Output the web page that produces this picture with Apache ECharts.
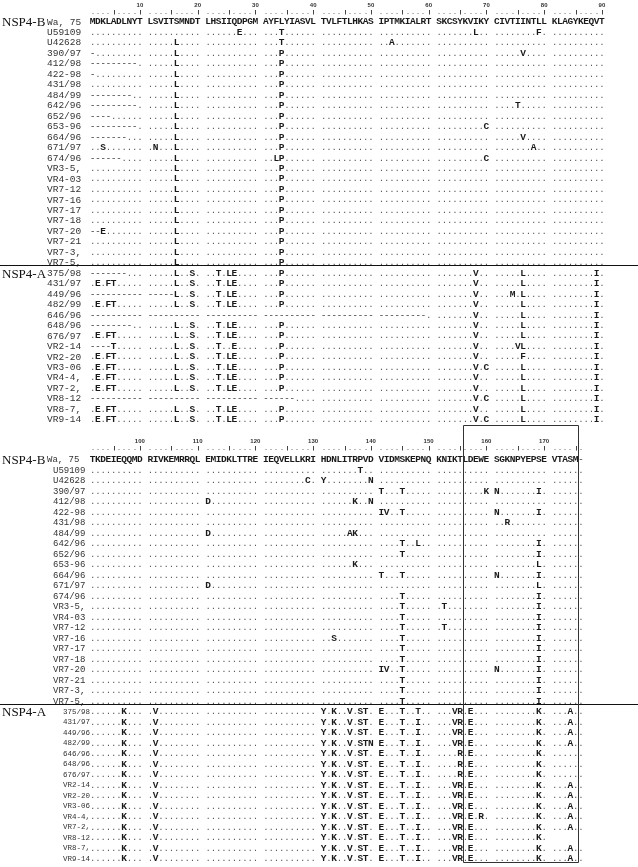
<!DOCTYPE html>
<html><head><meta charset="utf-8">
<script src="https://cdn.jsdelivr.net/npm/echarts@6/dist/echarts.min.js"></script>
<style>html,body{margin:0;padding:0;background:#fff}#c{width:638px;height:867px}</style>
</head><body><div id="c"></div>
<script>
// ---------------- data ----------------
const topRulerLabels = ['10','20','30','40','50','60','70','80','90'];
const bottomRulerLabels = ['100','110','120','130','140','150','160','170'];
const topRuler = '....|....| ....|....| ....|....| ....|....| ....|....| ....|....| ....|....| ....|....| ....|....|';
const bottomRuler = '....|....| ....|....| ....|....| ....|....| ....|....| ....|....| ....|....| ....|....| ....|.';

const namesB = ['Wa, 75','U59109','U42628','390/97','412/98','422-98','431/98','484/99','642/96','652/96','653-96','664/96','671/97','674/96','VR3-5,','VR4-03','VR7-12','VR7-16','VR7-17','VR7-18','VR7-20','VR7-21','VR7-3,','VR7-5,'];
const namesA = ['375/98','431/97','449/96','482/99','646/96','648/96','676/97','VR2-14','VR2-20','VR3-06','VR4-4,','VR7-2,','VR8-12','VR8-7,','VR9-14'];

const topSeqB = [
'MDKLADLNYT LSVITSMNDT LHSIIQDPGM AYFLYIASVL TVLFTLHKAS IPTMKIALRT SKCSYKVIKY CIVTIINTLL KLAGYKEQVT',
'.......... .......... ......E... ...T...... .......... .......... .......L.. ........F. ..........',
'.......... .....L.... .......... ...T...... .......... ..A....... .......... .......... ..........',
'-......... .....L.... .......... ...P...... .......... .......... .......... .....V.... ..........',
'---------. .....L.... .......... ...P...... .......... .......... .......... .......... ..........',
'-......... .....L.... .......... ...P...... .......... .......... .......... .......... ..........',
'.......... .....L.... .......... ...P...... .......... .......... .......... .......... ..........',
'--------.. .....L.... .......... ...P...... .......... .......... .......... .......... ..........',
'---------. .....L.... .......... ...P...... .......... .......... .......... ....T..... ..........',
'----...... .....L.... .......... ...P...... .......... .......... .......... .......... ..........',
'---------. .....L.... .......... ...P...... .......... .......... .........C .......... ..........',
'-------... .....L.... .......... ...P...... .......... .......... .......... .....V.... ..........',
'..S....... .N...L.... .......... ...P...... .......... .......... .......... .......A.. ..........',
'------.... .....L.... .......... ..LP...... .......... .......... .........C .......... ..........',
'.......... .....L.... .......... ...P...... .......... .......... .......... .......... ..........',
'.......... .....L.... .......... ...P...... .......... .......... .......... .......... ..........',
'.......... .....L.... .......... ...P...... .......... .......... .......... .......... ..........',
'.......... .....L.... .......... ...P...... .......... .......... .......... .......... ..........',
'.......... .....L.... .......... ...P...... .......... .......... .......... .......... ..........',
'.......... .....L.... .......... ...P...... .......... .......... .......... .......... ..........',
'--E....... .....L.... .......... ...P...... .......... .......... .......... .......... ..........',
'.......... .....L.... .......... ...P...... .......... .......... .......... .......... ..........',
'.......... .....L.... .......... ...P...... .......... .......... .......... .......... ..........',
'.......... .....L.... .......... ...P...... .......... .......... .......... .......... ..........'
];
const topSeqA = [
'-------... .....L..S. ..T.LE.... ...P...... .......... .......... .......V.. .....L.... ........I.',
'.E.FT..... .....L..S. ..T.LE.... ...P...... .......... .......... .......V.. .....L.... ........I.',
'---------- -----L..S. ..T.LE.... ...P...... .......... .......... .......V.. ...M.L.... ........I.',
'.E.FT..... .....L..S. ..T.LE.... ...P...... .......... .......... .......V.. .....L.... ........I.',
'---------- ---------- ---------- ---------- ---------- ---------. .......V.. .....L.... ........I.',
'--------.. .....L..S. ..T.LE.... ...P...... .......... .......... .......V.. .....L.... ........I.',
'.E.FT..... .....L..S. ..T.LE.... ...P...... .......... .......... .......V.. .....L.... ........I.',
'----T..... .....L..S. ..T..E.... ...P...... .......... .......... .......V.. ....VL.... ........I.',
'.E.FT..... .....L..S. ..T.LE.... ...P...... .......... .......... .......V.. .....F.... ........I.',
'.E.FT..... .....L..S. ..T.LE.... ...P...... .......... .......... .......V.C .....L.... ........I.',
'.E.FT..... .....L..S. ..T.LE.... ...P...... .......... .......... .......V.. .....L.... ........I.',
'.E.FT..... .....L..S. ..T.LE.... ...P...... .......... .......... .......V.. .....L.... ........I.',
'---------- ---------- ---------- ------.... .......... .......... .......V.C .....L.... ........I.',
'.E.FT..... .....L..S. ..T.LE.... ...P...... .......... .......... .......V.. .....L.... ........I.',
'.E.FT..... .....L..S. ..T.LE.... ...P...... .......... .......... .......V.C .....L.... ........I.'
];
const bottomSeqB = [
'TKDEIEQQMD RIVKEMRRQL EMIDKLTTRE IEQVELLKRI HDNLITRPVD VIDMSKEPNQ KNIKTLDEWE SGKNPYEPSE VTASM-',
'.......... .......... .......... .......... .......T.. .......... .......... .......... ......',
'.......... .......... .......... ........C. Y........N .......... .......... .......... ......',
'.......... .......... .......... .......... .......... T...T..... .........K N.......I. ......',
'.......... .......... D......... .......... ......K..N .......... .......... .......... ......',
'.......... .......... .......... .......... .......... IV..T..... .......... N.......I. ......',
'.......... .......... .......... .......... .......... .......... .......... ..R....... ......',
'.......... .......... D......... .......... .....AK... .......... .......... .......... ......',
'.......... .......... .......... .......... .......... ....T..L.. .......... ........I. ......',
'.......... .......... .......... .......... .......... ....T..... .......... ........I. ......',
'.......... .......... .......... .......... ......K... .......... .......... ........L. ......',
'.......... .......... .......... .......... .......... T...T..... .......... N.......I. ......',
'.......... .......... D......... .......... .......... .......... .......... ........L. ......',
'.......... .......... .......... .......... .......... ....T..... .......... ........I. ......',
'.......... .......... .......... .......... .......... ....T..... .T........ ........I. ......',
'.......... .......... .......... .......... .......... ....T..... .......... ........I. ......',
'.......... .......... .......... .......... .......... ....T..... .T........ ........I. ......',
'.......... .......... .......... .......... ..S....... ....T..... .......... ........I. ......',
'.......... .......... .......... .......... .......... ....T..... .......... ........I. ......',
'.......... .......... .......... .......... .......... ....T..... .......... ........I. ......',
'.......... .......... .......... .......... .......... IV..T..... .......... N.......I. ......',
'.......... .......... .......... .......... .......... ....T..... .......... ........I. ......',
'.......... .......... .......... .......... .......... ....T..... .......... ........I. ......',
'.......... .......... .......... .......... .......... ....T..... .......... ........I. ......'
];
const bottomSeqA = [
'......K... .V........ .......... .......... Y.K..V.ST. E...T..T.. ...VR.E... ........K. ...A..',
'......K... .V........ .......... .......... Y.K..V.ST. E...T..I.. ...VR.E... ........K. ...A..',
'......K... .V........ .......... .......... Y.K..V.ST. E...T..I.. ...VR.E... ........K. ...A..',
'......K... .V........ .......... .......... Y.K..V.STN E...T..I.. ...VR.E... ........K. ...A..',
'......K... .V........ .......... .......... Y.K..V.ST. E...T..I.. ....R.E... ........K. ......',
'......K... .V........ .......... .......... Y.K..V.ST. E...T..I.. ....R.E... ........K. ......',
'......K... .V........ .......... .......... Y.K..V.ST. E...T..I.. ....R.E... ........K. ......',
'......K... .V........ .......... .......... Y.K..V.ST. E...T..I.. ...VR.E... ........K. ...A..',
'......K... .V........ .......... .......... Y.K..V.ST. E...T..I.. ...VR.E... ........K. ...A..',
'......K... .V........ .......... .......... Y.K..V.ST. E...T..I.. ...VR.E... ........K. ...A..',
'......K... .V........ .......... .......... Y.K..V.ST. E...T..I.. ...VR.E.R. ........K. ...A..',
'......K... .V........ .......... .......... Y.K..V.ST. E...T..I.. ...VR.E... ........K. ...A..',
'......K... .V........ .......... .......... Y.K..V.ST. E...T..I.. ...VR.E... ........K.',
'......K... .V........ .......... .......... Y.K..V.ST. E...T..I.. ...VR.E... ........K. ...A..',
'......K... .V........ .......... .......... Y.K..V.ST. E...T..I.. ...VR.E... ........K. ...A..'
];
const groupLabels = ['NSP4-B','NSP4-A'];

// ---------------- layout / styling (code, not data) ----------------
const CH = 5.25;          // px per alignment column
const NCOL = 98;
const HALF = [
  {y0: 22,  step: 10.47, rulerRow: -0.85, labelRow: -1.6, nameXB: 47, nameXB0: 47, nameXA: 47, nameFontB: 9.5, nameFontA: 9.5},
  {y0: 460, step: 10.5,  rulerRow: -1.05, labelRow: -1.82, nameXB: 53, nameXB0: 47, nameXA: 63, nameFontB: 9, nameFontA: 7.5}
];

function buildCells(h, seqB, seqA, ruler, rulerLabels, withBox) {
  const cells = [];
  const rows = seqB.concat(seqA);
  rows.forEach((s, r) => {
    for (let p = 0; p < s.length; p++) {
      const ch = s[p];
      if (ch === ' ') continue;
      cells.push({k: ch === '.' ? 'dot' : (ch === '-' ? 'gap' : 'res'), p: p + 0.5, r: r, t: ch});
    }
  });
  namesB.forEach((n, r) => cells.push({k: 'name', p: 0, r: r, t: n, px: r === 0 ? h.nameXB0 : h.nameXB, fs: h.nameFontB}));
  namesA.forEach((n, r) => cells.push({k: 'name', p: 0, r: r + seqB.length, t: n, px: h.nameXA, fs: h.nameFontA}));
  cells.push({k: 'group', p: 0, r: 0, t: groupLabels[0]});
  cells.push({k: 'group', p: 0, r: seqB.length, t: groupLabels[1]});
  for (let p = 0; p < ruler.length; p++) {
    const ch = ruler[p];
    if (ch === ' ') continue;
    cells.push({k: ch === '|' ? 'tick' : 'rdot', p: p + 0.5, r: h.rulerRow});
  }
  rulerLabels.forEach((l, i) => cells.push({k: 'rlabel', p: i * 11 + 9.5, r: h.labelRow, t: l}));
  cells.push({k: 'hline', p: 0, r: seqB.length - 0.75});
  if (withBox) cells.push({k: 'box', p: 71, r: -3.33, p2: 93, r2: 38.29});
  return cells;
}

const cellsTop = buildCells(HALF[0], topSeqB, topSeqA, topRuler, topRulerLabels, false);
const cellsBot = buildCells(HALF[1], bottomSeqB, bottomSeqA, bottomRuler, bottomRulerLabels, true);

const MONO = '"Liberation Mono", "DejaVu Sans Mono", monospace';
function makeRender(cells) {
  return function (params, api) {
    const c = cells[params.dataIndex];
    const pt = api.coord([api.value(0), api.value(1)]);
    const x = pt[0], y = pt[1];
    switch (c.k) {
      case 'res':
        return {type: 'text', x: x, y: y, silent: true,
          style: {text: c.t, font: 'bold 9.5px ' + MONO, fill: '#1a1a1a', align: 'center', verticalAlign: 'middle'}};
      case 'dot':
        return {type: 'text', x: x, y: y, silent: true,
          style: {text: '.', font: '9px ' + MONO, fill: '#555', align: 'center', verticalAlign: 'middle'}};
      case 'gap':
        return {type: 'text', x: x, y: y, silent: true,
          style: {text: '-', font: '9px ' + MONO, fill: '#333', align: 'center', verticalAlign: 'middle'}};
      case 'name':
        return {type: 'text', x: c.px, y: y, silent: true,
          style: {text: c.t, font: c.fs + 'px ' + MONO, fill: '#333', align: 'left', verticalAlign: 'middle'}};
      case 'group':
        return {type: 'text', x: 2, y: y + 1, silent: true,
          style: {text: c.t, font: '13px "Liberation Serif", "DejaVu Serif", serif', fill: '#111', align: 'left', verticalAlign: 'middle'}};
      case 'rdot':
        return {type: 'rect', silent: true, shape: {x: Math.round(x) - 0.5, y: Math.round(y), width: 1, height: 1}, style: {fill: '#777'}};
      case 'tick':
        return {type: 'line', silent: true, shape: {x1: Math.round(x) + 0.5, y1: Math.round(y) - 3, x2: Math.round(x) + 0.5, y2: Math.round(y) + 1.5}, style: {stroke: '#444', lineWidth: 1}};
      case 'rlabel':
        return {type: 'text', x: x, y: y, silent: true,
          style: {text: c.t, font: 'bold 6px "Liberation Sans", sans-serif', fill: '#333', align: 'center', verticalAlign: 'middle'}};
      case 'hline': {
        const yy = Math.round(y) + 0.5;
        return {type: 'line', silent: true, shape: {x1: 0, y1: yy, x2: api.getWidth(), y2: yy}, style: {stroke: '#111', lineWidth: 1}};
      }
      case 'box': {
        const p2 = api.coord([c.p2, c.r2]);
        const x1 = Math.round(x) + 0.5, y1 = Math.round(y) + 0.5;
        return {type: 'rect', silent: true, shape: {x: x1, y: y1, width: Math.round(p2[0]) - Math.round(x), height: Math.round(p2[1]) - Math.round(y)},
          style: {fill: 'none', stroke: '#333', lineWidth: 1}};
      }
    }
    return null;
  };
}

const chart = echarts.init(document.getElementById('c'), null, {renderer: 'canvas'});
const grids = HALF.map(h => ({left: 90, width: NCOL * CH, top: h.y0 - 2 * h.step, height: 40 * h.step}));
chart.setOption({
  animation: false,
  backgroundColor: '#fff',
  grid: grids,
  xAxis: grids.map((g, i) => ({type: 'value', gridIndex: i, min: 0, max: NCOL, show: false})),
  yAxis: grids.map((g, i) => ({type: 'value', gridIndex: i, min: -2, max: 38, inverse: true, show: false})),
  series: [
    {type: 'custom', xAxisIndex: 0, yAxisIndex: 0, clip: false, progressive: 0,
      renderItem: makeRender(cellsTop), data: cellsTop.map(c => [c.p, c.r])},
    {type: 'custom', xAxisIndex: 1, yAxisIndex: 1, clip: false, progressive: 0,
      renderItem: makeRender(cellsBot), data: cellsBot.map(c => [c.p, c.r])}
  ]
});
</script>
</body></html>
